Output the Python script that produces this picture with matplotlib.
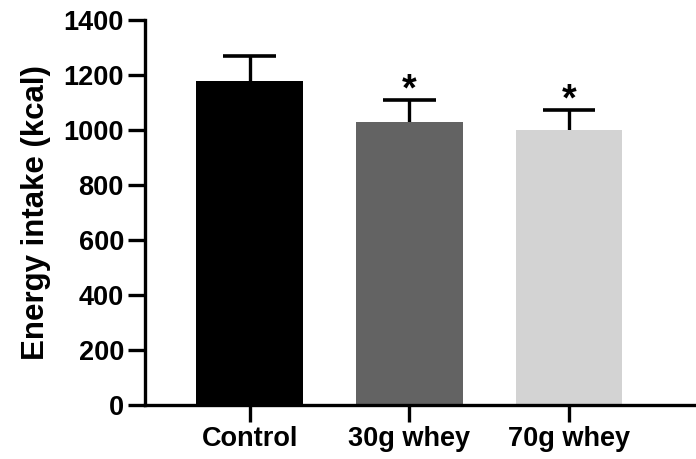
import numpy as np
import matplotlib.pyplot as plt

groups = ["Control", "30g whey", "70g whey"]
means = [1178, 1030, 1000]
sems = [91, 80, 73]
colors = ["#000000", "#636363", "#d3d3d3"]
signif = ["", "*", "*"]
yticks = [0, 200, 400, 600, 800, 1000, 1200, 1400]

plt.rcParams.update({
    "font.family": ["Liberation Sans", "DejaVu Sans"],
    "font.weight": "bold",
})

fig = plt.figure(figsize=(6.96, 4.59), dpi=100)
ax = fig.add_axes([0.208, 0.1176, 0.792, 0.8388])

x = np.arange(len(groups))
means = np.array(means)
sems = np.array(sems)
ax.bar(x, means, width=0.67, color=colors, zorder=2)
# upper-only error bars: stem plus top cap
ax.vlines(x, means, means + sems, color="black", linewidth=2.4, zorder=1)
ax.hlines(means + sems, x - 0.165, x + 0.165, color="black", linewidth=2.6, zorder=1)

for xi, m, s, lab in zip(x, means, sems, signif):
    if lab:
        ax.annotate(lab, (xi, m + s), xytext=(0, -6), textcoords="offset points",
                    ha="center", va="bottom", fontsize=27, fontweight="bold")

ax.set_xlim(-0.658, 2.796)
ax.set_ylim(0, 1400)
ax.set_yticks(yticks)
ax.set_xticks(x)
ax.set_xticklabels(groups, fontsize=19.5, fontweight="bold")
ax.set_ylabel("Energy intake (kcal)", fontsize=22.5, fontweight="bold", labelpad=9)
for t in ax.get_yticklabels():
    t.set_fontsize(19.5)
    t.set_fontweight("bold")

ax.spines["top"].set_visible(False)
ax.spines["right"].set_visible(False)
ax.spines["left"].set_linewidth(2.4)
ax.spines["bottom"].set_linewidth(2.4)
ax.tick_params(axis="both", length=12, width=2.4, pad=3)

fig.savefig("out.png", dpi=100)
